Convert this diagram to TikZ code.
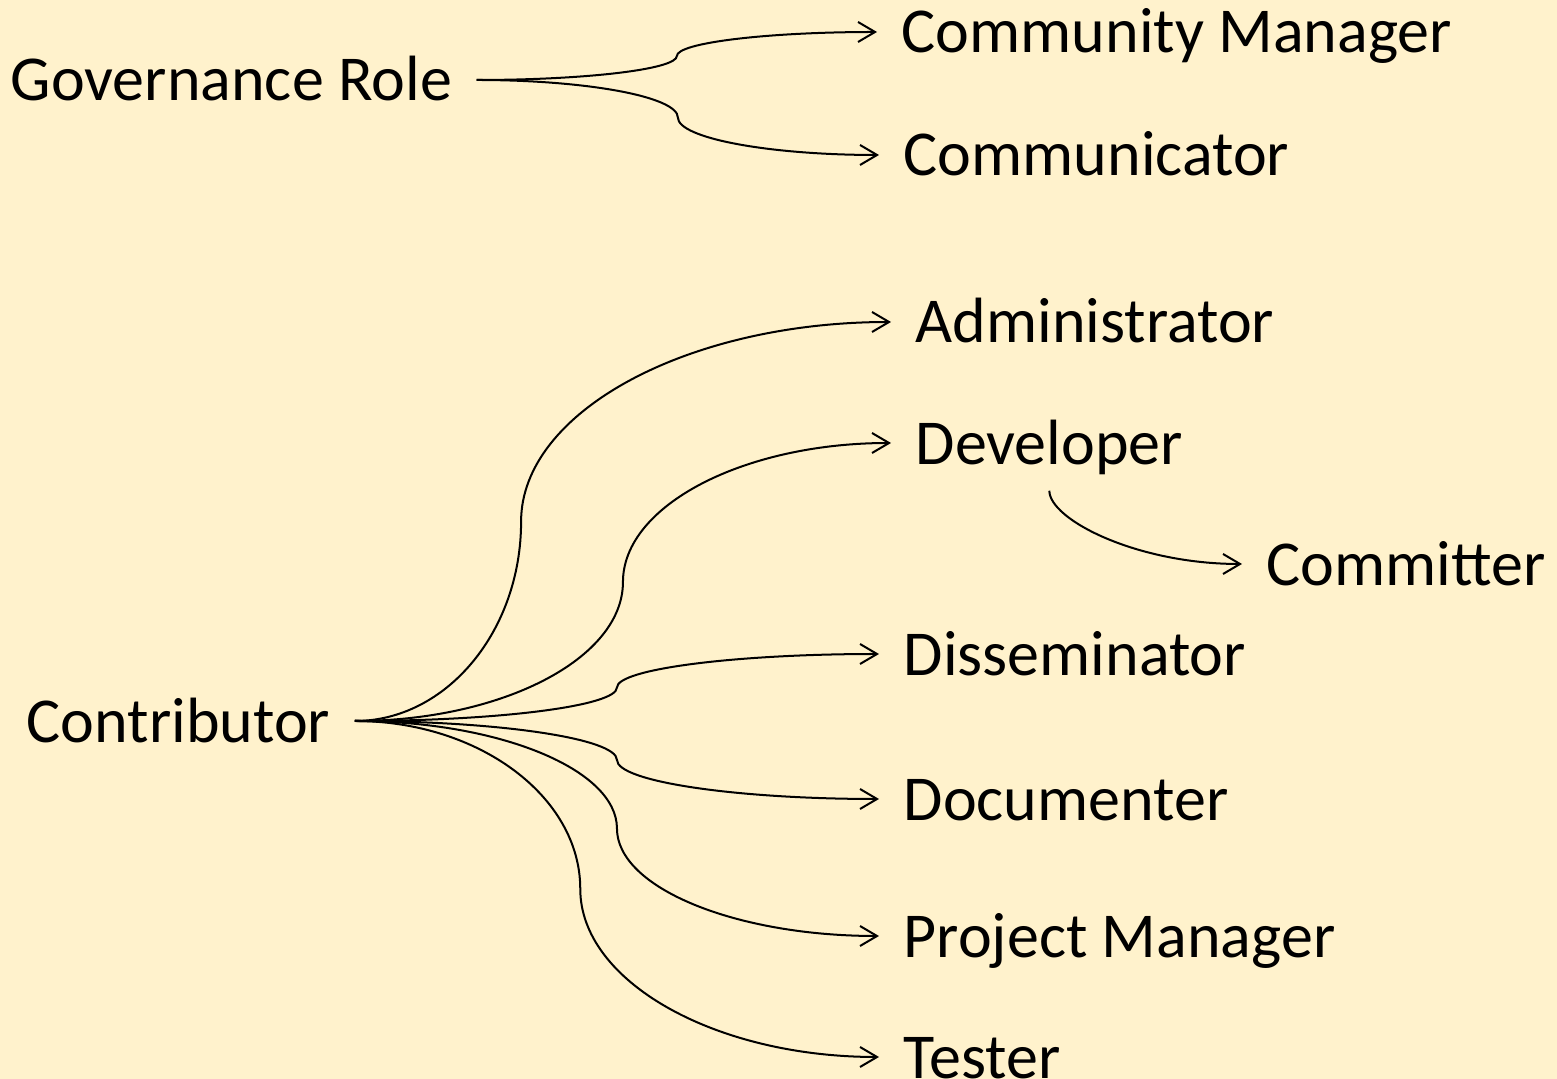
\documentclass[tikz,border=0pt]{standalone}
\usepackage{fontspec}
\setmainfont{Carlito}
\usepackage{xcolor}
\usetikzlibrary{arrows.meta, calc}
\definecolor{paper}{HTML}{FFF2CC}
\tikzset{
  role/.style={anchor=base west, inner xsep=0.24cm, inner ysep=0pt, text height=0.42cm, text depth=0pt, font=\fontsize{18.2}{22}\selectfont},
  link/.style={line width=0.57pt, -{Straight Barb[length=0.17cm, width=0.2cm]}}
}
% brace-like link: #1 = where the bend sits between the two nodes
\newcommand{\rolelink}[3][.5]{%
  \coordinate (rl-x) at ($(#2.east)!#1!(#3.west)$);
  \coordinate (rl-y) at ($(#2.east)!.5!(#3.west)$);
  \coordinate (rl-m) at (rl-x |- rl-y);
  \draw[link] (#2.east) .. controls ($(#2.east)!.55!(#2.east -| rl-m)$) and ($(rl-m)!.55!(rl-m |- #2.east)$) .. (rl-m)
    .. controls ($(rl-m)!.55!(rl-m |- #3.west)$) and ($(#3.west)!.55!(#3.west -| rl-m)$) .. (#3.west);}
\begin{document}
\begin{tikzpicture}[x=0.01cm, y=-0.01cm]
      \fill[paper] (0,0) rectangle (1557,1079);
      \useasboundingbox (0,0) rectangle (1557,1079);

      \node[role] (gov) at (-14,101) {Governance Role};
      \node[role] (cm) at (877,53) {Community Manager};
      \node[role] (comm) at (879,176) {Communicator};

      \node[role] (contrib) at (2,742) {Contributor};
      \node[role] (adm) at (891,343) {Administrator};
      \node[role] (dev) at (891,464) {Developer};
      \node[role] (cmt) at (1242,585) {Committer};
      \node[role] (dis) at (879,675) {Disseminator};
      \node[role] (doc) at (879,820) {Documenter};
      \node[role] (pm) at (879,957) {Project Manager};
      \node[role] (tst) at (879,1078) {Tester};

      \rolelink{gov}{cm}
      \rolelink{gov}{comm}

      \rolelink[.31]{contrib}{adm}
      \rolelink{contrib}{dev}
      \rolelink{contrib}{dis}
      \rolelink{contrib}{doc}
      \rolelink{contrib}{pm}
      \rolelink[.43]{contrib}{tst}

      \draw[link, shorten <=0.26cm] (dev.south) .. controls ($(dev.south)!.55!(dev.south |- cmt.west)$) and ($(cmt.west)!.55!(cmt.west -| dev.south)$) .. (cmt.west);
    \end{tikzpicture}
\end{document}
